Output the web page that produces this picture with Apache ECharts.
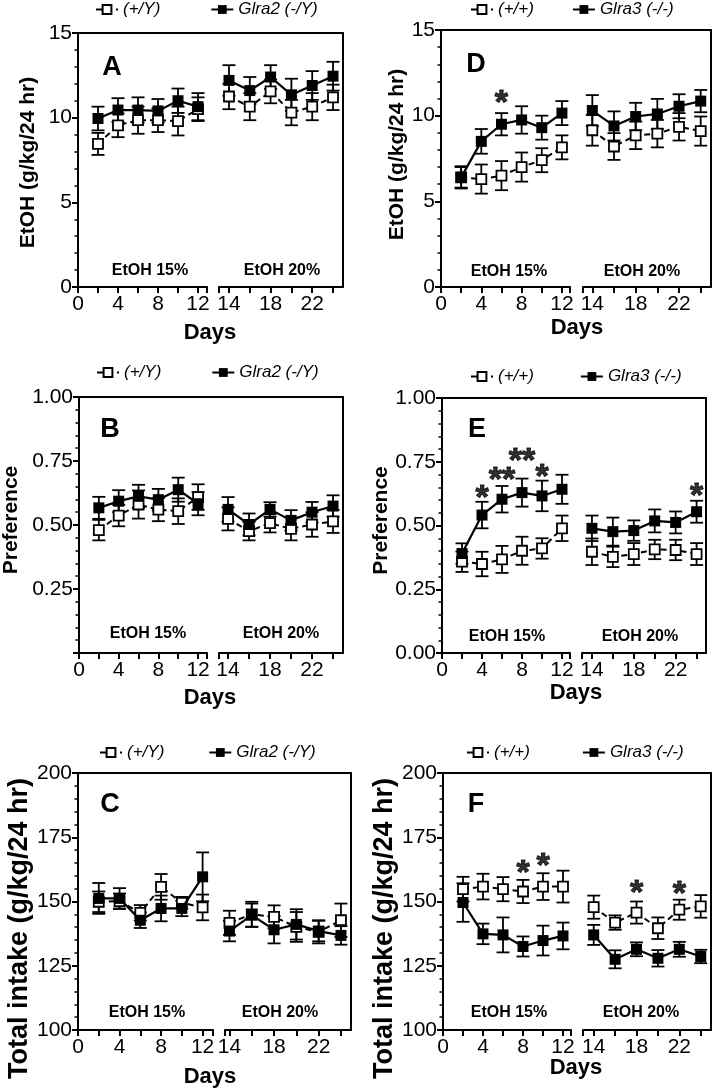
<!DOCTYPE html>
<html><head><meta charset="utf-8">
<script src="https://cdn.jsdelivr.net/npm/echarts@6/dist/echarts.min.js"></script>
<style>html,body{margin:0;padding:0;background:#fff}#c{width:714px;height:1089px}</style>
</head><body><div id="c"></div>
<script>
// ---------- DATA ----------
const days = [2, 4, 6, 8, 10, 12, 14, 16, 18, 20, 22, 24];
const xTicks15 = [0, 2, 4, 6, 8, 10, 12];
const xTicks20 = [14, 16, 18, 20, 22, 24];
const xLabels15 = [0, 4, 8, 12];
const xLabels20 = [14, 18, 22];

// Panel A  EtOH (g/kg/24 hr), Glra2
const aWtMean = [8.45, 9.55, 9.85, 9.85, 9.8, 10.5, 11.25, 10.65, 11.55, 10.3, 10.65, 11.2];
const aWtSem  = [0.65, 0.7, 0.8, 0.7, 0.85, 0.7, 0.75, 0.8, 0.7, 0.75, 0.8, 0.75];
const aKoMean = [9.95, 10.45, 10.45, 10.4, 11.0, 10.65, 12.2, 11.6, 12.4, 11.35, 11.9, 12.45];
const aKoSem  = [0.7, 0.7, 0.75, 0.7, 0.72, 0.8, 0.9, 0.8, 0.7, 0.95, 0.85, 0.85];
const aStars  = [];

// Panel D  EtOH (g/kg/24 hr), Glra3
const dWtMean = [6.4, 6.3, 6.5, 7.0, 7.4, 8.15, 9.15, 8.2, 8.85, 8.95, 9.35, 9.1];
const dWtSem  = [0.65, 0.85, 0.85, 0.85, 0.7, 0.7, 0.9, 0.78, 0.8, 0.8, 0.8, 0.85];
const dKoMean = [6.4, 8.5, 9.5, 9.75, 9.3, 10.15, 10.3, 9.4, 9.95, 10.1, 10.55, 10.85];
const dKoSem  = [0.6, 0.72, 0.65, 0.8, 0.7, 0.7, 0.9, 0.85, 0.8, 0.88, 0.7, 0.65];
const dStars  = [[6, 11.15, '*']];

// Panel B  Preference, Glra2
const bWtMean = [0.48, 0.537, 0.58, 0.56, 0.554, 0.609, 0.524, 0.476, 0.507, 0.485, 0.502, 0.514];
const bWtSem  = [0.04, 0.042, 0.055, 0.045, 0.05, 0.05, 0.045, 0.036, 0.036, 0.045, 0.048, 0.045];
const bKoMean = [0.567, 0.593, 0.612, 0.599, 0.638, 0.583, 0.561, 0.502, 0.561, 0.518, 0.55, 0.574];
const bKoSem  = [0.043, 0.043, 0.045, 0.042, 0.047, 0.045, 0.048, 0.043, 0.028, 0.04, 0.04, 0.042];
const bStars  = [];

// Panel E  Preference, Glra3
const eWtMean = [0.358, 0.349, 0.367, 0.401, 0.41, 0.489, 0.397, 0.377, 0.388, 0.406, 0.404, 0.388];
const eWtSem  = [0.04, 0.048, 0.053, 0.055, 0.04, 0.05, 0.052, 0.04, 0.043, 0.038, 0.04, 0.043];
const eKoMean = [0.39, 0.541, 0.603, 0.629, 0.616, 0.642, 0.489, 0.476, 0.48, 0.518, 0.512, 0.554];
const eKoSem  = [0.04, 0.052, 0.052, 0.055, 0.06, 0.057, 0.05, 0.055, 0.04, 0.045, 0.043, 0.043];
const eStars  = [[4, 0.637, '*'], [6, 0.708, '**'], [8, 0.78, '**'], [10, 0.718, '*'], [24, 0.646, '*']];

// Panel C  Total intake, Glra2
const cWtMean = [149.9, 150.1, 145.6, 155.7, 149.5, 147.7, 141.7, 145, 144, 140.1, 138.2, 142.7];
const cWtSem  = [4, 3, 3, 5, 2.3, 5, 4.7, 4.9, 4.5, 5.8, 4.5, 6.5];
const cKoMean = [151.2, 151.2, 142.7, 147.3, 147.3, 159.6, 138.5, 144.7, 139, 141.1, 138.5, 136.8];
const cKoSem  = [6, 4, 3, 5, 3, 9.5, 4, 4.5, 5.3, 5.9, 4, 3.6];
const cStars  = [];

// Panel F  Total intake, Glra3
const fWtMean = [154.8, 155.8, 154.8, 153.9, 155.8, 155.8, 147.8, 141.8, 145.7, 139.6, 146.8, 148.1];
const fWtSem  = [4.8, 5, 4.7, 4.5, 5.2, 6.2, 4.5, 2.8, 4.3, 4.2, 3.9, 4.4];
const fKoMean = [149.6, 137.4, 137, 132.5, 134.8, 136.6, 137, 127.5, 131.4, 127.9, 131.4, 128.6];
const fKoSem  = [7.5, 4, 6.8, 3.9, 5.8, 5.2, 3.9, 3.5, 2.7, 3.2, 2.9, 2.6];
const fStars  = [[8, 163.9, '*'], [10, 166.5, '*'], [18, 156.1, '*'], [22, 155.8, '*']];

const yEtoh = [0, 15, 5];      // min, max, interval
const yPref = [0, 1, 0.25];
const yTotal = [100, 200, 25];

// ---------- LAYOUT / STYLE ----------
const FONT = 'Arial, "Liberation Sans", Helvetica, sans-serif';
const panels = [
  {letter:'A', wt:'(+/Y)', ko:'Glra2 (-/Y)', yName:'EtOH (g/kg/24 hr)', y:yEtoh, dec:0, hideZero:false,
   wm:aWtMean, ws:aWtSem, km:aKoMean, ks:aKoSem, stars:aStars,
   L:{x0:78, xb1:207, xb2:219, x1:343, top:33, bottom:287, lmax:12.9, rmin:13.04, rmax:24.96},
   nameGap:39, nameSize:21, namePad:[0, 5, 0, 0], leg:{left:95, top:1, gap:50}, letterPos:[112, 68], etoh:[150, 282, 271], days:[210, 333]},
  {letter:'D', wt:'(+/+)', ko:'Glra3 (-/-)', yName:'EtOH (g/kg/24 hr)', y:yEtoh, dec:0, hideZero:false,
   wm:dWtMean, ws:dWtSem, km:dKoMean, ks:dKoSem, stars:dStars,
   L:{x0:441, xb1:570, xb2:583, x1:711, top:30, bottom:287, lmax:12.8, rmin:13.14, rmax:24.95},
   nameGap:33, nameSize:21, namePad:[0, 0, 0, 8], leg:{left:470, top:1, gap:38}, letterPos:[476, 65], etoh:[509, 642, 272], days:[577, 328]},
  {letter:'B', wt:'(+/Y)', ko:'Glra2 (-/Y)', yName:'Preference', y:yPref, dec:2, hideZero:true,
   wm:bWtMean, ws:bWtSem, km:bKoMean, ks:bKoSem, stars:bStars,
   L:{x0:78, xb1:207, xb2:219, x1:343, top:397, bottom:653, lmax:12.9, rmin:13.14, rmax:24.95},
   nameGap:57, nameSize:21, namePad:[0, 0, 0, 10], leg:{left:96, top:364, gap:50}, letterPos:[110, 430], etoh:[148, 281, 634], days:[210, 698]},
  {letter:'E', wt:'(+/+)', ko:'Glra3 (-/-)', yName:'Preference', y:yPref, dec:2, hideZero:false,
   wm:eWtMean, ws:eWtSem, km:eKoMean, ks:eKoSem, stars:eStars,
   L:{x0:442, xb1:570, xb2:582, x1:706, top:398, bottom:653, lmax:12.8, rmin:13.05, rmax:24.9},
   nameGap:48, nameSize:21, namePad:[0, 0, 0, 10], leg:{left:470, top:368, gap:46}, letterPos:[477, 430], etoh:[507, 640, 637], days:[576, 693]},
  {letter:'C', wt:'(+/Y)', ko:'Glra2 (-/Y)', yName:'Total intake (g/kg/24 hr)', y:yTotal, dec:0, hideZero:false,
   wm:cWtMean, ws:cWtSem, km:cKoMean, ks:cKoSem, stars:cStars,
   L:{x0:78, xb1:213, xb2:225, x1:351, top:773, bottom:1030, lmax:13, rmin:13.6, rmax:24.9},
   nameGap:37, nameSize:27, namePad:[0, 54, 0, 0], leg:{left:99, top:744, gap:44}, letterPos:[110, 805], etoh:[147, 280, 1013], days:[210, 1077]},
  {letter:'F', wt:'(+/+)', ko:'Glra3 (-/-)', yName:'Total intake (g/kg/24 hr)', y:yTotal, dec:0, hideZero:false,
   wm:fWtMean, ws:fWtSem, km:fKoMean, ks:fKoSem, stars:fStars,
   L:{x0:443, xb1:571, xb2:583, x1:711, top:773, bottom:1030, lmax:12.8, rmin:13.0, rmax:24.96},
   nameGap:41, nameSize:27, namePad:[0, 54, 0, 0], leg:{left:466, top:744, gap:52}, letterPos:[476, 805], etoh:[509, 641, 1013], days:[576, 1068]}
];

const AX = {color:'#000', width:2};
function errRender(params, api) {
  const x = api.value(0), m = api.value(1), s = api.value(2);
  const hi = api.coord([x, m + s]);
  const lo = api.coord([x, m - s]);
  const w = 6.5;
  const st = {stroke:'#000', lineWidth:1.8};
  return {type:'group', children:[
    {type:'line', shape:{x1:hi[0], y1:hi[1], x2:lo[0], y2:lo[1]}, style:st},
    {type:'line', shape:{x1:hi[0]-w, y1:hi[1], x2:hi[0]+w, y2:hi[1]}, style:st},
    {type:'line', shape:{x1:lo[0]-w, y1:lo[1], x2:lo[0]+w, y2:lo[1]}, style:st}
  ]};
}

const option = {animation:false, backgroundColor:'#fff', textStyle:{fontFamily:FONT},
  grid:[], xAxis:[], yAxis:[], series:[], legend:[], graphic:[]};

panels.forEach(p => {
  const L = p.L;
  const g = option.grid.length;
  const h = L.bottom - L.top;
  option.grid.push({left:L.x0, top:L.top, width:L.xb1 - L.x0, height:h});
  option.grid.push({left:L.xb2, top:L.top, width:L.x1 - L.xb2, height:h});
  option.grid.push({left:L.x0, top:L.top, width:L.x1 - L.x0, height:h});
  const xi = option.xAxis.length, yi = option.yAxis.length;
  const lbl = {fontSize:21, color:'#000', fontFamily:FONT, margin:6};
  const xlbl = Object.assign({}, lbl, {margin:7});
  option.xAxis.push({gridIndex:g, type:'value', min:0, max:L.lmax,
    axisLine:{onZero:false, lineStyle:AX},
    axisTick:{customValues:xTicks15.concat([L.lmax]), length:6, lineStyle:AX},
    axisLabel:Object.assign({customValues:xLabels15}, xlbl), splitLine:{show:false}});
  option.xAxis.push({gridIndex:g+1, type:'value', min:L.rmin, max:L.rmax,
    axisLine:{onZero:false, lineStyle:AX},
    axisTick:{customValues:[L.rmin].concat(xTicks20), length:6, lineStyle:AX},
    axisLabel:Object.assign({customValues:xLabels20}, xlbl), splitLine:{show:false}});
  option.xAxis.push({gridIndex:g+2, type:'value', min:0, max:1, position:'top',
    axisLine:{onZero:false, lineStyle:AX}, axisTick:{show:false}, axisLabel:{show:false}, splitLine:{show:false}});
  option.yAxis.push({gridIndex:g, type:'value', min:p.y[0], max:p.y[1], interval:p.y[2],
    axisLine:{show:true, onZero:false, lineStyle:AX},
    axisTick:{show:true, length:6, lineStyle:AX},
    minorTick:{show:true, splitNumber:5, length:3.5, lineStyle:{color:'#000', width:1.5}},
    axisLabel:Object.assign({formatter:v => (p.hideZero && v === 0) ? '' : v.toFixed(p.dec)}, lbl),
    splitLine:{show:false}, minorSplitLine:{show:false},
    name:p.yName, nameLocation:'middle', nameRotate:90, nameGap:p.nameGap,
    nameTextStyle:{fontSize:p.nameSize, fontWeight:'bold', color:'#000', fontFamily:FONT, padding:p.namePad}});
  option.yAxis.push({gridIndex:g+1, type:'value', min:p.y[0], max:p.y[1], show:false});
  option.yAxis.push({gridIndex:g+2, type:'value', min:0, max:1, position:'right',
    axisLine:{show:true, onZero:false, lineStyle:AX}, axisTick:{show:false}, axisLabel:{show:false}, splitLine:{show:false}});

  [[0, xi, yi], [6, xi+1, yi+1]].forEach(([off, xa, ya]) => {
    const seg = days.slice(off, off + 6);
    const pts = (m, s) => seg.map((d, k) => [d, m[off+k], s[off+k]]);
    option.series.push({type:'custom', xAxisIndex:xa, yAxisIndex:ya, renderItem:errRender,
      encode:{x:0, y:1}, data:pts(p.wm, p.ws), z:2, silent:true});
    option.series.push({type:'custom', xAxisIndex:xa, yAxisIndex:ya, renderItem:errRender,
      encode:{x:0, y:1}, data:pts(p.km, p.ks), z:2, silent:true});
    option.series.push({type:'line', name:p.wt, xAxisIndex:xa, yAxisIndex:ya,
      data:seg.map((d, k) => [d, p.wm[off+k]]), symbol:'rect', symbolSize:10,
      lineStyle:{color:'#000', width:2, type:[6, 4]},
      itemStyle:{color:'#fff', borderColor:'#000', borderWidth:1.8}, z:3});
    option.series.push({type:'line', name:p.ko, xAxisIndex:xa, yAxisIndex:ya,
      data:seg.map((d, k) => [d, p.km[off+k]]), symbol:'rect', symbolSize:11,
      lineStyle:{color:'#000', width:2.2},
      itemStyle:{color:'#000', borderColor:'#000', borderWidth:0}, z:4});
    const st = p.stars.filter(s => (off === 0 ? s[0] <= 12 : s[0] >= 14));
    if (st.length) {
      option.series.push({type:'scatter', xAxisIndex:xa, yAxisIndex:ya, symbol:'circle', symbolSize:0,
        itemStyle:{color:'#000'}, z:5, silent:true,
        data:st.map(s => ({value:[s[0], s[1]], name:s[2]})),
        label:{show:true, position:'top', distance:0, formatter:'{b}', fontSize:34, fontWeight:'bold',
          color:'#000', textBorderColor:'#000', textBorderWidth:1, fontFamily:FONT, offset:[0, 25]}});
    }
  });

  option.legend.push({data:[p.wt, p.ko], left:p.leg.left, top:p.leg.top, itemGap:p.leg.gap,
    itemWidth:22, itemHeight:11, selectedMode:false, padding:0,
    textStyle:{fontSize:17, fontStyle:'italic', color:'#000', fontFamily:FONT}});

  const txt = (t, x, y, size) => ({type:'text', x:x, y:y, silent:true,
    style:{text:t, fill:'#000', font:'bold ' + size + 'px ' + FONT, textAlign:'center', textVerticalAlign:'middle'}});
  option.graphic.push(txt(p.letter, p.letterPos[0], p.letterPos[1], 27));
  option.graphic.push(txt('EtOH 15%', p.etoh[0], p.etoh[2], 16));
  option.graphic.push(txt('EtOH 20%', p.etoh[1], p.etoh[2], 16));
  option.graphic.push(txt('Days', p.days[0], p.days[1], 22));
});

const chart = echarts.init(document.getElementById('c'), null, {renderer:'canvas'});
chart.setOption(option);
</script></body></html>
